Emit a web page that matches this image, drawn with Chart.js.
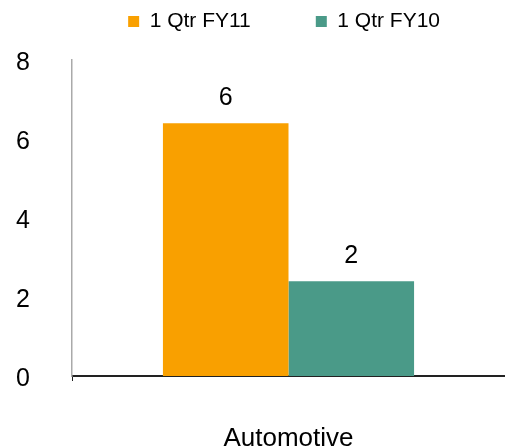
<!DOCTYPE html>
<html>
<head>
<meta charset="utf-8">
<script src="https://cdn.jsdelivr.net/npm/chart.js@4/dist/chart.umd.min.js"></script>
<style>
  html, body { margin: 0; padding: 0; background: #fff; }
  #wrap { width: 505px; height: 448px; position: relative; }
</style>
</head>
<body>
<div id="wrap"><canvas id="salesChart"></canvas></div>
<script>
/* data */
const categories = ["Automotive"];
const fy11Values = [6.4];
const fy10Values = [2.4];
const yTicks = [0, 2, 4, 6, 8];

const FONT = "'Liberation Sans', Arial, sans-serif";

// value labels above the bars (rounded like the original)
const barLabels = {
    id: "barLabels",
    afterDatasetsDraw(chart) {
        const ctx = chart.ctx;
        ctx.save();
        ctx.font = "25px " + FONT;
        ctx.fillStyle = "#000";
        ctx.textAlign = "center";
        ctx.textBaseline = "middle";
        chart.data.datasets.forEach(function (ds, i) {
            chart.getDatasetMeta(i).data.forEach(function (bar, j) {
                ctx.fillText(String(Math.round(ds.data[j])), bar.x, bar.y - 25);
            });
        });
        ctx.restore();
    }
};

// wide gap between legend items but keep the legend short
const legendFit = {
    id: "legendFit",
    afterInit(chart) {
        const legend = chart.legend;
        if (!legend) return;
        const fit = legend.fit;
        legend.fit = function () {
            fit.call(this);
            this.height = 114;
        };
    }
};

new Chart(document.getElementById("salesChart"), {
    type: "bar",
    data: {
        labels: categories,
        datasets: [{
            label: "1 Qtr FY11",
            data: fy11Values,
            backgroundColor: "#F9A000"
        }, {
            label: "1 Qtr FY10",
            data: fy10Values,
            backgroundColor: "#4A9A88"
        }]
    },
    options: {
        responsive: true,
        maintainAspectRatio: false,
        animation: false,
        datasets: {
            bar: { categoryPercentage: 0.58, barPercentage: 1 }
        },
        layout: { padding: { top: -54, right: 0, left: 0, bottom: 0 } },
        plugins: {
            tooltip: { enabled: false },
            legend: {
                position: "top",
                align: "end",
                labels: {
                    font: { family: FONT, size: 21 },
                    color: "#000",
                    boxWidth: 11,
                    boxHeight: 11,
                    padding: 65
                }
            }
        },
        scales: {
            x: {
                offset: true,
                border: { display: true, color: "#222", width: 2 },
                grid: {
                    display: true,
                    offset: true,
                    drawOnChartArea: false,
                    tickLength: 5,
                    color: "#222"
                },
                ticks: {
                    font: { family: FONT, size: 26 },
                    color: "#000",
                    padding: 42
                },
                afterFit: function (scale) { scale.height = 72; }
            },
            y: {
                min: 0,
                max: 8,
                border: { display: true, color: "#aaa", width: 1.5 },
                grid: { display: false },
                afterBuildTicks: function (scale) {
                    scale.ticks = yTicks.map(function (v) { return { value: v }; });
                },
                ticks: {
                    font: { family: FONT, size: 25 },
                    color: "#000",
                    padding: 34,
                    labelOffset: 3
                },
                afterFit: function (scale) { scale.width = 72; }
            }
        }
    },
    plugins: [barLabels, legendFit]
});
</script>
</body>
</html>
